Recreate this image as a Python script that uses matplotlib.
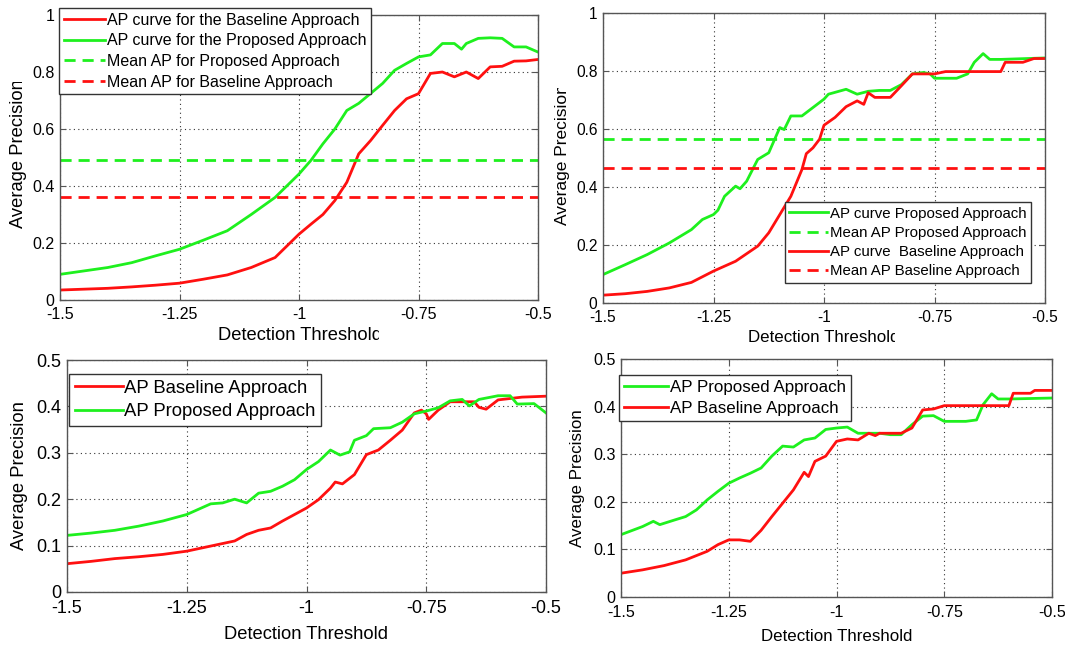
import numpy as np
import matplotlib
matplotlib.use("Agg")
import matplotlib.pyplot as plt
from matplotlib.transforms import Bbox

plt.rcParams['font.family'] = ['Liberation Sans', 'DejaVu Sans']

W, H = 1065, 646

# ---- top-left panel ----
tl_x_prop = [-1.5, -1.45, -1.4, -1.35, -1.3, -1.25, -1.2, -1.15, -1.1, -1.05, -1.0, -0.975,
             -0.95, -0.925, -0.9, -0.875, -0.85, -0.825, -0.8, -0.775, -0.75, -0.725, -0.7,
             -0.675, -0.66, -0.65, -0.625, -0.6, -0.575, -0.55, -0.525, -0.5]
tl_prop = [0.09, 0.102, 0.114, 0.131, 0.155, 0.178, 0.21, 0.243, 0.30, 0.36, 0.442, 0.49,
           0.548, 0.60, 0.665, 0.69, 0.725, 0.76, 0.806, 0.83, 0.853, 0.86, 0.90,
           0.90, 0.88, 0.90, 0.918, 0.92, 0.918, 0.888, 0.888, 0.87]
tl_x_base = [-1.5, -1.45, -1.4, -1.35, -1.3, -1.25, -1.2, -1.15, -1.1, -1.05, -1.0, -0.975,
             -0.95, -0.925, -0.9, -0.875, -0.85, -0.825, -0.8, -0.775, -0.75, -0.725, -0.7,
             -0.675, -0.65, -0.625, -0.6, -0.575, -0.55, -0.525, -0.5]
tl_base = [0.035, 0.038, 0.041, 0.046, 0.052, 0.059, 0.073, 0.088, 0.114, 0.149, 0.231, 0.266,
           0.30, 0.349, 0.413, 0.513, 0.56, 0.613, 0.665, 0.706, 0.724, 0.795, 0.80,
           0.783, 0.80, 0.777, 0.818, 0.82, 0.838, 0.839, 0.844]
tl_mean_prop = 0.492
tl_mean_base = 0.362

# ---- top-right panel ----
tr_x_prop = [-1.5, -1.45, -1.4, -1.35, -1.3, -1.275, -1.25, -1.24, -1.225, -1.2, -1.19, -1.175,
             -1.15, -1.125, -1.1, -1.09, -1.075, -1.05, -1.025, -1.0, -0.99, -0.95, -0.925,
             -0.9, -0.875, -0.85, -0.825, -0.8, -0.775, -0.76, -0.75, -0.725, -0.7, -0.675,
             -0.66, -0.64, -0.625, -0.6, -0.5]
tr_prop = [0.098, 0.132, 0.167, 0.207, 0.253, 0.288, 0.305, 0.32, 0.368, 0.403, 0.394, 0.42,
           0.495, 0.518, 0.605, 0.598, 0.645, 0.645, 0.674, 0.703, 0.72, 0.737, 0.72,
           0.73, 0.733, 0.733, 0.753, 0.79, 0.795, 0.79, 0.775, 0.775, 0.775, 0.79,
           0.83, 0.86, 0.84, 0.84, 0.845]
tr_x_base = [-1.5, -1.45, -1.4, -1.35, -1.3, -1.25, -1.2, -1.15, -1.125, -1.1, -1.075, -1.05,
             -1.04, -1.025, -1.01, -1.0, -0.975, -0.95, -0.925, -0.91, -0.9, -0.885, -0.85,
             -0.825, -0.8, -0.75, -0.725, -0.6, -0.59, -0.55, -0.525, -0.5]
tr_base = [0.027, 0.032, 0.04, 0.052, 0.071, 0.11, 0.144, 0.196, 0.242, 0.305, 0.368, 0.46,
           0.515, 0.535, 0.565, 0.613, 0.64, 0.677, 0.697, 0.685, 0.725, 0.709, 0.709,
           0.749, 0.79, 0.79, 0.798, 0.798, 0.83, 0.83, 0.843, 0.843]
tr_mean_prop = 0.567
tr_mean_base = 0.467

# ---- bottom-left panel ----
bl_x_prop = [-1.5, -1.45, -1.4, -1.35, -1.3, -1.25, -1.2, -1.175, -1.15, -1.125, -1.1, -1.075,
             -1.05, -1.025, -1.0, -0.975, -0.95, -0.93, -0.91, -0.9, -0.875, -0.86, -0.825,
             -0.8, -0.775, -0.75, -0.725, -0.7, -0.675, -0.66, -0.64, -0.6, -0.575, -0.56,
             -0.525, -0.5]
bl_prop = [0.122, 0.127, 0.133, 0.142, 0.153, 0.167, 0.19, 0.192, 0.2, 0.192, 0.213, 0.217,
           0.228, 0.242, 0.264, 0.281, 0.306, 0.295, 0.302, 0.327, 0.337, 0.352, 0.354,
           0.366, 0.384, 0.39, 0.397, 0.412, 0.415, 0.401, 0.415, 0.423, 0.423, 0.405,
           0.406, 0.386]
bl_x_base = [-1.5, -1.45, -1.4, -1.35, -1.3, -1.25, -1.2, -1.15, -1.125, -1.1, -1.075, -1.05,
             -1.025, -1.0, -0.975, -0.95, -0.94, -0.925, -0.9, -0.875, -0.85, -0.825, -0.8,
             -0.775, -0.76, -0.75, -0.745, -0.725, -0.7, -0.675, -0.65, -0.64, -0.625, -0.6,
             -0.55, -0.5]
bl_base = [0.061, 0.066, 0.072, 0.076, 0.081, 0.088, 0.099, 0.11, 0.124, 0.133, 0.138, 0.153,
           0.167, 0.181, 0.199, 0.224, 0.237, 0.233, 0.253, 0.296, 0.306, 0.327, 0.349,
           0.386, 0.392, 0.384, 0.372, 0.392, 0.41, 0.41, 0.41, 0.398, 0.394, 0.414,
           0.42, 0.422]

# ---- bottom-right panel ----
br_x_prop = [-1.5, -1.45, -1.425, -1.41, -1.375, -1.35, -1.325, -1.3, -1.275, -1.25, -1.225,
             -1.2, -1.175, -1.15, -1.125, -1.1, -1.075, -1.05, -1.025, -1.0, -0.975, -0.95,
             -0.925, -0.9, -0.875, -0.85, -0.825, -0.8, -0.775, -0.75, -0.725, -0.7, -0.675,
             -0.66, -0.64, -0.625, -0.6, -0.5]
br_prop = [0.131, 0.148, 0.159, 0.152, 0.162, 0.169, 0.183, 0.204, 0.222, 0.239, 0.25,
           0.26, 0.271, 0.296, 0.317, 0.315, 0.33, 0.334, 0.352, 0.355, 0.357, 0.344,
           0.344, 0.344, 0.341, 0.341, 0.362, 0.38, 0.381, 0.369, 0.369, 0.369, 0.372,
           0.404, 0.427, 0.416, 0.416, 0.418]
br_x_base = [-1.5, -1.45, -1.4, -1.35, -1.3, -1.275, -1.25, -1.225, -1.2, -1.175, -1.15, -1.125,
             -1.1, -1.075, -1.065, -1.05, -1.025, -1.0, -0.975, -0.95, -0.925, -0.91, -0.9,
             -0.85, -0.825, -0.8, -0.775, -0.75, -0.6, -0.59, -0.55, -0.54, -0.5]
br_base = [0.05, 0.057, 0.066, 0.078, 0.096, 0.11, 0.12, 0.12, 0.117, 0.14, 0.169, 0.197,
           0.225, 0.262, 0.253, 0.285, 0.296, 0.327, 0.332, 0.33, 0.344, 0.339, 0.344,
           0.344, 0.355, 0.393, 0.395, 0.402, 0.402, 0.428, 0.428, 0.434, 0.434]

x_ticks = [-1.5, -1.25, -1, -0.75, -0.5]
x_labels = ['-1.5', '-1.25', '-1', '-0.75', '-0.5']
RED = '#ff1010'
GREEN = '#1ef01e'
EDGE = '#555555'


def px_axes(fig, x0, y0, x1, y1):
    # pixel box (top-left origin) -> figure axes
    return fig.add_axes([x0 / W, 1 - y1 / H, (x1 - x0) / W, (y1 - y0) / H])


def style(ax, ymax, ystep, fs, xpad=5):
    ax.set_xlim(-1.5, -0.5)
    ax.set_ylim(0, ymax)
    ax.set_xticks(x_ticks)
    ax.set_xticklabels(x_labels)
    yt = np.round(np.arange(0, ymax + 1e-9, ystep), 2)
    ax.set_yticks(yt)
    ax.set_yticklabels(['%g' % v for v in yt])
    ax.grid(True, linestyle=(0, (1, 3)), color='#333333', linewidth=0.8)
    ax.tick_params(direction='in', length=4, width=0.8, color=EDGE,
                   top=True, right=True, labelsize=fs)
    ax.tick_params(axis='x', pad=xpad)
    ax.tick_params(axis='y', pad=4)
    for s in ax.spines.values():
        s.set_color(EDGE)
        s.set_linewidth(1.0)


def clipped_text(fig, x, y, s, fs, clip, rot=0):
    # x, y, clip in pixels with top-left origin
    t = fig.text(x / W, 1 - y / H, s, fontsize=fs, rotation=rot,
                 ha='center', va='center')
    cx0, cy0, cx1, cy1 = clip
    t.set_clip_box(Bbox([[cx0, H - cy1], [cx1, H - cy0]]))
    t.set_clip_on(True)
    return t


def legend(ax, fs, anchor, loc):
    leg = ax.legend(loc=loc, bbox_to_anchor=(anchor[0] / W, 1 - anchor[1] / H),
                    bbox_transform=ax.figure.transFigure, fontsize=fs,
                    fancybox=False, framealpha=1, edgecolor='#333333',
                    borderpad=0.3, handlelength=2.6, handletextpad=0.1,
                    labelspacing=0.35, borderaxespad=0)
    leg.get_frame().set_linewidth(1.0)
    return leg


fig = plt.figure(figsize=(W / 100, H / 100), dpi=100)
lw = 2.0
dash = (0, (4, 2.5))

# top-left
ax = px_axes(fig, 60, 15, 538, 300)
ax.plot(tl_x_base, tl_base, color=RED, lw=lw, label='AP curve for the Baseline Approach')
ax.plot(tl_x_prop, tl_prop, color=GREEN, lw=lw, label='AP curve for the Proposed Approach')
ax.axhline(tl_mean_prop, color=GREEN, lw=lw, ls=dash, label='Mean AP for Proposed Approach')
ax.axhline(tl_mean_base, color=RED, lw=lw, ls=dash, label='Mean AP for Baseline Approach')
style(ax, 1.0, 0.2, 11.5)
legend(ax, 11.5, (59, 8), 'upper left')
clipped_text(fig, 300, 336, 'Detection Threshold', 13.2, (0, 320, 379, 352))
clipped_text(fig, 19, 154, 'Average Precision', 13.2, (0, 82, 40, 300), rot=90)

# top-right
ax = px_axes(fig, 603, 13, 1045, 303)
ax.plot(tr_x_prop, tr_prop, color=GREEN, lw=lw, label='AP curve Proposed Approach')
ax.axhline(tr_mean_prop, color=GREEN, lw=lw, ls=dash, label='Mean AP Proposed Approach')
ax.plot(tr_x_base, tr_base, color=RED, lw=lw, label='AP curve  Baseline Approach')
ax.axhline(tr_mean_base, color=RED, lw=lw, ls=dash, label='Mean AP Baseline Approach')
style(ax, 1.0, 0.2, 11.2)
legend(ax, 10.8, (1031, 283), 'lower right')
clipped_text(fig, 824, 337, 'Detection Threshold', 12.2, (600, 320, 895, 352))
clipped_text(fig, 563, 155, 'Average Precision', 12.5, (545, 88, 580, 300), rot=90)

# bottom-left
ax = px_axes(fig, 67, 360, 546, 592)
ax.plot(bl_x_base, bl_base, color=RED, lw=lw, label='AP Baseline Approach')
ax.plot(bl_x_prop, bl_prop, color=GREEN, lw=lw, label='AP Proposed Approach')
style(ax, 0.5, 0.1, 13, xpad=6)
legend(ax, 13.3, (69, 374), 'upper left')
ax.set_xlabel('Detection Threshold', fontsize=13.2, labelpad=6)
ax.set_ylabel('Average Precision', fontsize=13.2, labelpad=6)

# bottom-right
ax = px_axes(fig, 621, 359, 1052, 597)
ax.plot(br_x_prop, br_prop, color=GREEN, lw=lw, label='AP Proposed Approach')
ax.plot(br_x_base, br_base, color=RED, lw=lw, label='AP Baseline Approach')
style(ax, 0.5, 0.1, 11.6, xpad=6)
legend(ax, 12.2, (619, 375), 'upper left')
ax.set_xlabel('Detection Threshold', fontsize=12.2, labelpad=6)
ax.set_ylabel('Average Precision', fontsize=12.2, labelpad=6)

fig.savefig('out.png', dpi=100)
